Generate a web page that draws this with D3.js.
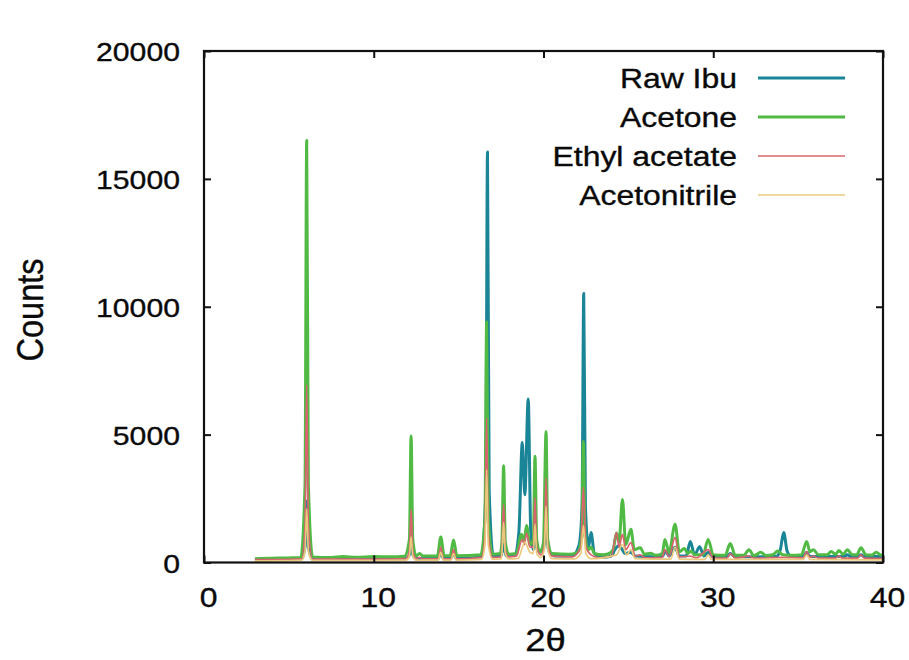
<!DOCTYPE html>
<html>
<head>
<meta charset="utf-8">
<script src="https://cdn.jsdelivr.net/npm/d3@7"></script>
<style>
  html, body { margin: 0; padding: 0; background: #fff; }
  svg { display: block; }
  text { font-family: "Liberation Sans", Arial, Helvetica, sans-serif; fill: #0a0a0a; stroke: #0a0a0a; stroke-width: 0.35px; }
</style>
</head>
<body>
<svg id="chart" width="909" height="660"></svg>
<script>
// Powder X-ray diffraction patterns: [2θ (degrees), counts]
const rawIbu = [
  [3.0,120],[5.0,130],[5.75,150],[5.95,600],[6.05,2400],[6.15,600],[6.4,140],
  [10.0,150],[11.9,160],[12.1,300],[12.2,900],[12.3,300],[12.5,160],
  [13.8,160],[13.95,400],[14.1,160],[14.55,160],[14.7,400],[14.85,160],
  [16.35,220],[16.6,2800],[16.7,16050],[16.8,2800],[17.05,240],[17.5,260],[17.65,700],[17.8,260],
  [18.3,300],[18.55,1200],[18.75,4690],[18.9,2650],[19.1,6390],[19.25,1200],[19.4,500],[19.5,1000],[19.65,450],
  [20.0,500],[20.15,1400],[20.3,450],[20.7,250],[21.7,260],[22.1,700],[22.27,2200],[22.37,10520],[22.47,2200],
  [22.65,600],[22.8,1170],[23.0,350],[23.5,200],
  [24.0,250],[24.2,500],[24.4,650],[24.6,550],[24.8,350],[25.15,400],[25.4,250],[26.5,220],
  [27.0,230],[27.2,450],[27.4,250],[27.75,600],[28.0,250],[28.4,250],[28.65,820],[28.9,300],[29.2,620],
  [29.45,250],[29.7,400],[30.0,220],[30.8,220],[31.0,350],[31.3,220],[33.7,230],[33.95,500],[34.15,1170],
  [34.35,450],[34.6,230],[35.3,230],[35.5,400],[35.7,230],[37.7,230],[37.9,300],[38.1,230],[38.5,230],
  [38.7,300],[38.9,230],[40.0,230]
];

const acetone = [
  [3.0,150],[4.0,170],[5.0,180],[5.7,200],[5.95,3000],[6.05,16500],[6.15,3000],[6.4,220],
  [7.5,200],[8.2,230],[9.0,210],[10.0,230],[11.0,220],[11.8,240],[12.1,900],[12.2,4950],[12.3,900],[12.5,260],[12.7,350],[12.9,250],
  [13.75,250],[13.95,1000],[14.15,260],[14.5,260],[14.7,880],[14.9,260],
  [16.3,300],[16.55,1700],[16.65,9400],[16.75,1700],[17.0,320],[17.45,350],[17.55,800],[17.65,3780],[17.75,800],[17.95,320],
  [18.4,350],[18.7,1100],[18.85,800],[19.0,1450],[19.2,700],[19.4,900],[19.5,4150],[19.6,900],[19.8,400],
  [20.0,800],[20.15,5120],[20.25,900],[20.5,350],
  [21.5,320],[22.0,400],[22.25,1000],[22.35,4730],[22.45,1000],[22.65,500],[22.8,600],[23.0,350],[23.5,300],[23.8,330],
  [24.1,500],[24.3,1150],[24.45,800],[24.65,2460],[24.85,700],[25.15,1300],[25.35,500],[25.7,580],[25.95,320],
  [26.3,360],[26.6,280],[27.0,350],[27.15,900],[27.4,400],[27.75,1500],[28.0,420],[28.3,550],[28.5,350],
  [28.7,450],[28.9,300],[29.4,300],[29.7,900],[30.0,300],[30.7,280],[31.0,740],[31.3,280],[31.8,280],
  [32.1,500],[32.4,270],[32.8,400],[33.1,270],[33.5,300],[33.8,450],[34.1,300],[34.6,280],[35.2,300],
  [35.5,820],[35.7,420],[35.9,500],[36.2,300],[36.7,300],[36.95,430],[37.2,320],[37.4,470],[37.65,320],
  [37.9,500],[38.2,300],[38.45,300],[38.7,580],[39.0,300],[39.35,290],[39.6,400],[39.85,300],[40.0,280]
];

const ethylAcetate = [
  [3.0,110],[5.0,120],[5.75,140],[5.95,1400],[6.05,6950],[6.15,1400],[6.4,130],
  [10.0,130],[11.9,150],[12.1,450],[12.2,2070],[12.3,450],[12.5,150],[12.7,200],[12.9,140],
  [13.8,140],[13.95,600],[14.1,140],[14.55,140],[14.7,500],[14.85,140],
  [16.35,200],[16.55,1100],[16.65,5650],[16.75,1100],[17.0,200],[17.5,220],[17.55,500],[17.65,2260],[17.75,500],[17.95,220],
  [18.4,250],[18.75,900],[18.88,700],[19.0,1150],[19.2,600],[19.4,600],[19.5,2530],[19.6,600],[19.85,300],
  [20.05,700],[20.15,3300],[20.25,700],[20.5,250],
  [21.7,220],[22.2,600],[22.35,2930],[22.5,600],[22.8,300],[23.3,180],[24.0,250],[24.3,1170],[24.45,600],
  [24.65,1100],[24.85,500],[25.15,780],[25.4,250],[25.7,300],[26.0,180],
  [27.0,200],[27.15,500],[27.4,220],[27.75,980],[28.0,220],[28.65,250],[29.0,180],[29.7,500],[30.0,180],
  [30.8,170],[31.0,350],[31.3,170],[32.1,250],[32.4,170],[34.1,200],[35.3,180],[35.5,430],[35.7,200],
  [35.9,250],[36.2,170],[37.2,170],[37.4,250],[37.6,170],[38.5,170],[38.7,300],[38.9,170],[40.0,160]
];

const acetonitrile = [
  [3.0,60],[5.0,70],[5.75,90],[5.95,450],[6.05,2100],[6.15,450],[6.4,80],
  [10.0,80],[11.9,90],[12.1,250],[12.2,1000],[12.3,250],[12.5,90],
  [13.8,90],[13.95,400],[14.1,90],[14.55,90],[14.7,350],[14.85,90],
  [16.35,120],[16.55,700],[16.65,3630],[16.75,700],[17.0,130],[17.5,140],[17.55,350],[17.65,1560],[17.75,350],[17.95,140],
  [18.5,160],[18.9,800],[19.2,400],[19.4,350],[19.5,1500],[19.6,350],[19.85,200],[20.05,500],[20.15,2200],
  [20.25,500],[20.5,150],[21.8,140],[22.2,350],[22.35,1450],[22.5,350],[22.8,150],[24.3,300],[24.65,700],
  [24.9,300],[25.15,500],[25.4,150],[27.5,130],[27.75,600],[28.0,130],[29.5,120],[29.7,300],[29.9,120],
  [35.3,120],[35.5,300],[35.7,120],[40.0,100]
];

const seriesNames = ["Raw Ibu", "Acetone", "Ethyl acetate", "Acetonitrile"];
const seriesData = [rawIbu, acetone, ethylAcetate, acetonitrile];
const seriesColors = ["#1a8597", "#50ba45", "#d9646f", "#eac97c"];
const seriesWidths = [3, 3, 1.7, 1.7];

const xTicks = [0, 10, 20, 30, 40];
const yTicks = [0, 5000, 10000, 15000, 20000];
const xLabel = "2θ";
const yLabel = "Counts";

// layout
const plotLeft = 204, plotRight = 883, plotTop = 51, plotBottom = 562.5;
const stretch = 1.14; // horizontal widening of the lettering

const svg = d3.select("#chart");

const x = d3.scaleLinear().domain([0, 40]).range([plotLeft, plotRight]);
const y = d3.scaleLinear().domain([0, 20000]).range([plotBottom, plotTop]);

// clip so the traces stay inside the frame
svg.append("defs").append("clipPath").attr("id", "plotclip")
  .append("rect").attr("x", plotLeft).attr("y", plotTop)
  .attr("width", plotRight - plotLeft).attr("height", plotBottom - plotTop);

const lineGen = d3.line().x(d => x(d[0])).y(d => y(d[1])).curve(d3.curveMonotoneX);

const traces = svg.append("g").attr("clip-path", "url(#plotclip)");
seriesData.forEach((data, i) => {
  traces.append("path")
    .datum(data)
    .attr("fill", "none")
    .attr("stroke", seriesColors[i])
    .attr("stroke-width", seriesWidths[i])
    .attr("stroke-linejoin", "round")
    .attr("d", lineGen);
});

// inward ticks on all four sides
const tickLen = 7;
const gBottom = svg.append("g").attr("transform", `translate(0,${plotBottom})`)
  .call(d3.axisBottom(x).tickValues(xTicks).tickSizeInner(-tickLen).tickSizeOuter(0));
const gTop = svg.append("g").attr("transform", `translate(0,${plotTop})`)
  .call(d3.axisTop(x).tickValues(xTicks).tickSizeInner(-tickLen).tickSizeOuter(0).tickFormat(""));
const gLeft = svg.append("g").attr("transform", `translate(${plotLeft},0)`)
  .call(d3.axisLeft(y).tickValues(yTicks).tickSizeInner(-tickLen).tickSizeOuter(0));
const gRight = svg.append("g").attr("transform", `translate(${plotRight},0)`)
  .call(d3.axisRight(y).tickValues(yTicks).tickSizeInner(-tickLen).tickSizeOuter(0).tickFormat(""));

[gBottom, gTop, gLeft, gRight].forEach(g => {
  g.select(".domain").remove();
  g.selectAll(".tick line").attr("stroke", "#111").attr("stroke-width", 2);
});

gBottom.selectAll(".tick text")
  .attr("font-size", 28)
  .attr("dy", null).attr("y", 0)
  .attr("text-anchor", "middle")
  .attr("transform", `translate(4,44) scale(${stretch},1)`)
  .text(d => d);

gLeft.selectAll(".tick text")
  .attr("font-size", 26.5)
  .attr("x", 0).attr("dy", null).attr("y", 0)
  .attr("transform", `translate(-24,9.5) scale(${stretch},1)`)
  .attr("text-anchor", "end")
  .text(d => d);

svg.selectAll(".tick text")
  .attr("fill", null)
  .style("font-family", "'Liberation Sans', Arial, sans-serif");

// plot frame
svg.append("rect")
  .attr("x", plotLeft).attr("y", plotTop)
  .attr("width", plotRight - plotLeft).attr("height", plotBottom - plotTop)
  .attr("fill", "none").attr("stroke", "#111").attr("stroke-width", 2.2);

// axis titles
svg.append("text")
  .attr("transform", `translate(${(plotLeft + plotRight) / 2 + 2},651) scale(${stretch},1)`)
  .attr("text-anchor", "middle")
  .attr("font-size", 32)
  .text(xLabel);

svg.append("text")
  .attr("transform", `translate(43,310) rotate(-90) scale(1,${stretch})`)
  .attr("text-anchor", "middle")
  .attr("font-size", 32.5)
  .text(yLabel);

// legend
const legendRowY = d3.scalePoint().domain(seriesNames).range([78, 195]);
const legend = svg.append("g");
seriesNames.forEach((name, i) => {
  const ry = legendRowY(name);
  legend.append("text")
    .attr("transform", `translate(737,${ry + 10}) scale(${stretch},1)`)
    .attr("text-anchor", "end")
    .attr("font-size", 28)
    .text(name);
  legend.append("line")
    .attr("x1", 758).attr("x2", 845)
    .attr("y1", ry).attr("y2", ry)
    .attr("stroke", seriesColors[i])
    .attr("stroke-width", seriesWidths[i]);
});
</script>
</body>
</html>
